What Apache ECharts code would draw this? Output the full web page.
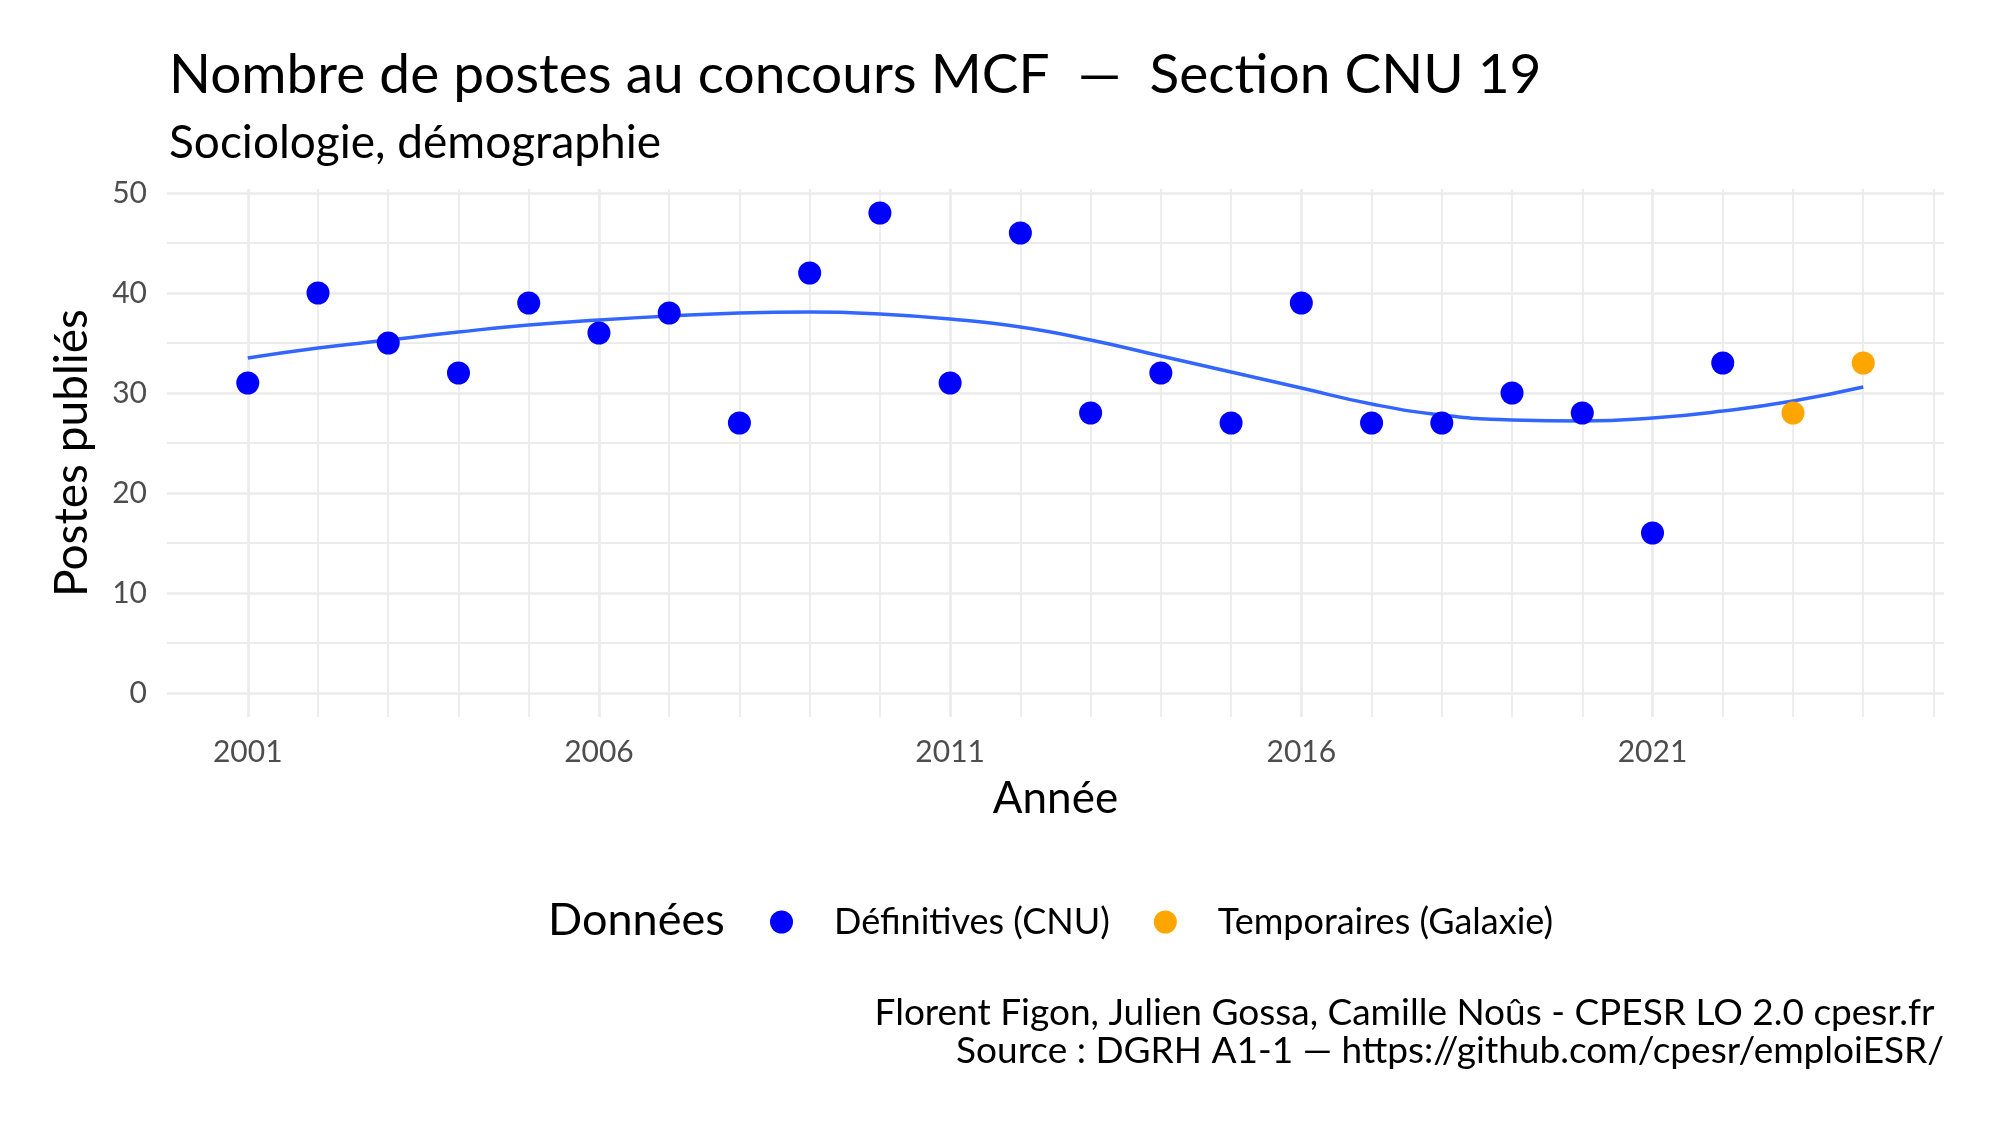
<!DOCTYPE html>
<html>
<head>
<meta charset="utf-8">
<script src="https://cdn.jsdelivr.net/npm/echarts@6/dist/echarts.min.js"></script>
<style>
  html, body { margin: 0; padding: 0; background: #fff; }
  #chart { width: 2000px; height: 1125px; }
</style>
</head>
<body>
<div id="chart"></div>
<script>
// annees et postes publies
const years = [2001, 2002, 2003, 2004, 2005, 2006, 2007, 2008, 2009, 2010, 2011, 2012,
  2013, 2014, 2015, 2016, 2017, 2018, 2019, 2020, 2021, 2022, 2023, 2024];
const postes = [31, 40, 35, 32, 39, 36, 38, 27, 42, 48, 31, 46,
  28, 32, 27, 39, 27, 27, 30, 28, 16, 33, 28, 33];
// D = definitives (CNU), T = temporaires (Galaxie)
const statut = ["D", "D", "D", "D", "D", "D", "D", "D", "D", "D", "D", "D",
  "D", "D", "D", "D", "D", "D", "D", "D", "D", "D", "T", "T"];
// courbe de tendance lissee (loess)
const tendance = [33.5, 34.5, 35.3, 36.1, 36.8, 37.3, 37.7, 38.0, 38.1, 37.9, 37.4, 36.6,
  35.3, 33.7, 32.1, 30.5, 28.9, 27.8, 27.3, 27.2, 27.5, 28.2, 29.2, 30.6];

const xTicks = [2001, 2006, 2011, 2016, 2021];
const yTicks = [0, 10, 20, 30, 40, 50];
const yMinor = [5, 15, 25, 35, 45];

const font = "Lato";
const textColor = "#000";
const gridColor = "#ebebeb";

const definitives = [];
const temporaires = [];
years.forEach((y, i) => {
  if (statut[i] === "D") definitives.push([y, postes[i]]);
  else temporaires.push([y, postes[i]]);
});
const smooth = years.map((y, i) => [y, tendance[i]]);

// lignes de grille verticales : une par annee
const vLines = [];
for (let y = 2001; y <= 2025; y++) {
  vLines.push({
    xAxis: y,
    lineStyle: { width: xTicks.includes(y) ? 2.7 : 1.8 },
  });
}
const hLines = yTicks.map((v) => ({ yAxis: v, lineStyle: { width: 2.7 } }))
  .concat(yMinor.map((v) => ({ yAxis: v, lineStyle: { width: 1.8 } })));

const myChart = echarts.init(document.getElementById("chart"));
const myOption = {
  backgroundColor: "#fff",
  animation: false,
  textStyle: { fontFamily: font },
  title: [
    {
      text: "Nombre de postes au concours MCF  —  Section CNU 19",
      left: 164,
      top: 43,
      textStyle: { fontFamily: font, fontSize: 55, fontWeight: "normal", color: textColor },
    },
    {
      text: "Sociologie, démographie",
      left: 164,
      top: 115,
      textStyle: { fontFamily: font, fontSize: 46, fontWeight: "normal", color: textColor },
    },
    {
      text: "Florent Figon, Julien Gossa, Camille Noûs - CPESR LO 2.0 cpesr.fr \nSource : DGRH A1-1 — https://github.com/cpesr/emploiESR/",
      left: 1939,
      top: 989,
      textAlign: "right",
      textStyle: {
        fontFamily: font, fontSize: 37, fontWeight: "normal", color: textColor,
        lineHeight: 38, align: "right",
      },
    },
    {
      text: "Données",
      left: 543,
      top: 893,
      textStyle: { fontFamily: font, fontSize: 45, fontWeight: "normal", color: textColor },
    },
  ],
  legend: {
    data: ["Définitives (CNU)", "Temporaires (Galaxie)"],
    left: 765,
    top: 899,
    icon: "circle",
    itemWidth: 23,
    itemHeight: 23,
    itemGap: 44,
    textStyle: { fontFamily: font, fontSize: 36, color: textColor, padding: [0, 0, 0, 36] },
  },
  grid: {
    left: 167,
    right: 56,
    top: 189,
    bottom: 408,
  },
  xAxis: {
    type: "value",
    min: 1999.85,
    max: 2025.15,
    name: "Année",
    nameLocation: "middle",
    nameGap: 60,
    nameTextStyle: { fontFamily: font, fontSize: 44, color: textColor },
    axisLine: { show: false },
    axisTick: { show: false },
    splitLine: { show: false },
    axisLabel: {
      customValues: xTicks,
      margin: 20,
      fontFamily: font,
      fontSize: 30,
      color: "#4d4d4d",
      formatter: (v) => String(v),
    },
  },
  yAxis: {
    type: "value",
    min: -2.4,
    max: 50.4,
    name: "Postes publiés",
    nameLocation: "middle",
    nameGap: 72,
    nameTextStyle: { fontFamily: font, fontSize: 46, color: textColor },
    axisLine: { show: false },
    axisTick: { show: false },
    splitLine: { show: false },
    axisLabel: {
      customValues: yTicks,
      margin: 20,
      fontFamily: font,
      fontSize: 30,
      color: "#4d4d4d",
    },
  },
  series: [
    {
      name: "grille",
      type: "scatter",
      data: [],
      z: 0,
      silent: true,
      markLine: {
        z: 0,
        silent: true,
        symbol: "none",
        animation: false,
        label: { show: false },
        lineStyle: { color: gridColor, type: "solid" },
        emphasis: { disabled: true },
        data: vLines.concat(hLines),
      },
    },
    {
      name: "tendance",
      type: "line",
      data: smooth,
      smooth: true,
      showSymbol: false,
      z: 3,
      lineStyle: { color: "#3366FF", width: 3.5 },
    },
    {
      name: "Définitives (CNU)",
      type: "scatter",
      data: definitives,
      symbolSize: 23,
      z: 4,
      itemStyle: { color: "#0000FF", opacity: 1 },
    },
    {
      name: "Temporaires (Galaxie)",
      type: "scatter",
      data: temporaires,
      symbolSize: 23,
      z: 4,
      itemStyle: { color: "#FFA500", opacity: 1 },
    },
  ],
};
myChart.setOption(myOption);
</script>
</body>
</html>
